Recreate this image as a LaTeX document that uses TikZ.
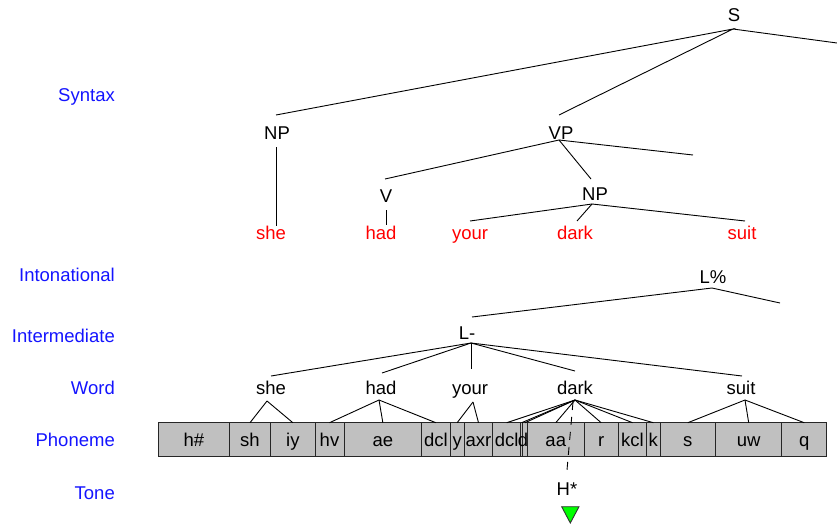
\documentclass[tikz,border=0pt]{standalone}
\usepackage{fontspec}
\setmainfont{Liberation Sans}
\usetikzlibrary{calc}
\definecolor{phgray}{RGB}{192,192,192}
\definecolor{tgreen}{RGB}{0,255,0}
\definecolor{lblue}{RGB}{20,20,255}
\definecolor{wred}{RGB}{255,0,0}
\newcommand\lbl{\fontsize{18.5}{20}\selectfont}
\newcommand\pbx[4]{\node[phbox, minimum width=#3pt] (#1) at (#2,439.6) {\makebox[0pt]{#4}};}
\begin{document}
\begin{tikzpicture}[x=1pt,y=-1pt,
  lab/.style={font=\lbl, text=lblue, anchor=base east, inner sep=0pt},
  syn/.style={font=\lbl, anchor=base, inner sep=0pt},
  wd/.style={font=\lbl, text=wred, anchor=base, inner sep=0pt},
  phbox/.style={draw=black!85, fill=phgray, line width=0.9pt, minimum height=33.8pt,
    inner sep=0pt, outer sep=0pt, font=\lbl, text height=13.3pt, text depth=0pt},
  ln/.style={line width=0.9pt, black}]
\useasboundingbox (0,0) rectangle (837,525);

% tier labels
\node[lab] (l-syn) at (115,101.7) {Syntax};
\node[lab] (l-int) at (115,281.7) {Intonational};
\node[lab] (l-imd) at (115,342.7) {Intermediate};
\node[lab] (l-wrd) at (115,394) {Word};
\node[lab] (l-pho) at (115,446.5) {Phoneme};
\node[lab] (l-ton) at (115,499.5) {Tone};

% syntax tree
\node[syn] (S) at (734,21) {S};
\coordinate (S-j) at (733,29);
\coordinate (S-r) at (837,43);
\node[syn] (NP1) at (277,139) {NP};
\coordinate (NP1-t) at (276,115);
\coordinate (NP1-b) at (276,147);
\node[syn] (VP) at (561,139) {VP};
\coordinate (VP-t) at (559,115);
\coordinate (VP-j) at (559,140);
\coordinate (VP-r) at (693,155);
\node[syn] (V) at (386,202.5) {V};
\coordinate (V-t) at (385,179);
\coordinate (V-b) at (386,210);
\node[syn] (NP2) at (595,200.7) {NP};
\coordinate (NP2-t) at (591,179);
\coordinate (NP2-j) at (592,204);

\node[wd] (r-she) at (271,239.5) {she};
\node[wd] (r-had) at (381,239.5) {had};
\node[wd] (r-your) at (470,239.5) {your};
\node[wd] (r-dark) at (575,239.5) {dark};
\node[wd] (r-suit) at (742,239.5) {suit};
\coordinate (r-she-t) at (276,226);
\coordinate (r-had-t) at (386,225);
\coordinate (r-your-t) at (470,221);
\coordinate (r-dark-t) at (577,221);
\coordinate (r-suit-t) at (745,221);

\draw[ln] (NP1-t) -- (S-j) -- (VP-t);
\draw[ln] (S-j) -- (S-r);
\draw[ln] (NP1-b) -- (r-she-t);
\draw[ln] (V-t) -- (VP-j) -- (NP2-t);
\draw[ln] (VP-j) -- (VP-r);
\draw[ln] (V-b) -- (r-had-t);
\draw[ln] (r-your-t) -- (NP2-j) -- (r-suit-t);
\draw[ln] (NP2-j) -- (r-dark-t);

% intonation
\node[syn] (Lpct) at (713,283.3) {L\%};
\coordinate (Lpct-j) at (712,288);
\coordinate (Lpct-r) at (780,303);
\node[syn] (Lm) at (467,339.3) {L-};
\coordinate (Lm-t) at (472,317);
\coordinate (Lm-j) at (471,343);
\draw[ln] (Lm-t) -- (Lpct-j) -- (Lpct-r);

% words
\node[syn] (w-she) at (271,394) {she};
\node[syn] (w-had) at (381,394) {had};
\node[syn] (w-your) at (470,394) {your};
\node[syn] (w-dark) at (575,394) {dark};
\node[syn] (w-suit) at (741,394) {suit};
\coordinate (w-she-t) at (271,376);
\coordinate (w-had-t) at (382,373);
\coordinate (w-your-t) at (471,369);
\coordinate (w-dark-t) at (575,371);
\coordinate (w-suit-t) at (742,376);
\foreach \w in {she,had,your,dark,suit}{\draw[ln] (Lm-j) -- (w-\w-t);}
\coordinate (w-she-j) at (267,401);
\coordinate (w-had-j) at (379,400);
\coordinate (w-your-j) at (473,402);
\coordinate (w-dark-j) at (575,400);
\coordinate (w-suit-j) at (745,400);

% phonemes
\pbx{p-h}{193.8}{71.0}{h\#}
\pbx{p-sh}{250.0}{41.4}{sh}
\pbx{p-iy}{292.85}{44.3}{iy}
\pbx{p-hv}{329.5}{29.0}{hv}
\pbx{p-ae}{382.85}{77.7}{ae}
\pbx{p-dcl1}{435.85}{28.3}{dcl}
\pbx{p-y}{457.15}{14.3}{y}
\pbx{p-axr}{478.5}{28.4}{axr}
\pbx{p-dcl2}{506.7}{28.0}{dcl}
\pbx{p-x}{521.7}{2.0}{}
\pbx{p-d}{525.1}{4.8}{\kern-4.2pt d}
\pbx{p-aa}{555.75}{56.5}{aa}
\pbx{p-r}{601.15}{34.3}{r}
\pbx{p-kcl}{632.5}{28.4}{kcl}
\pbx{p-k}{653.35}{13.3}{k}
\pbx{p-s}{687.85}{55.7}{s}
\pbx{p-uw}{748.7}{66.0}{uw}
\pbx{p-q}{804.2}{45.0}{q}

\foreach \p in {sh,iy}{\draw[ln] (w-she-j) -- (p-\p.north);}
\foreach \p in {hv,ae,dcl1}{\draw[ln] (w-had-j) -- (p-\p.north);}
\foreach \p in {y,axr}{\draw[ln] (w-your-j) -- (p-\p.north);}
\foreach \p in {dcl2,x,d,aa,r,kcl,k}{\draw[ln] (w-dark-j) -- (p-\p.north);}
\foreach \p in {s,uw,q}{\draw[ln] (w-suit-j) -- (p-\p.north);}

% tone
\node[syn] (H) at (567,495) {H*};
\coordinate (H-t) at (567,470);
\coordinate (dk-d) at (573,402);
\draw[ln, dash pattern=on 8pt off 7pt] (dk-d) -- (H-t);
\draw[line width=0.9pt, draw=black!80, fill=tgreen] (561.7,506.7) -- (579,506.7) -- (570.3,523) -- cycle;
\end{tikzpicture}
\end{document}
